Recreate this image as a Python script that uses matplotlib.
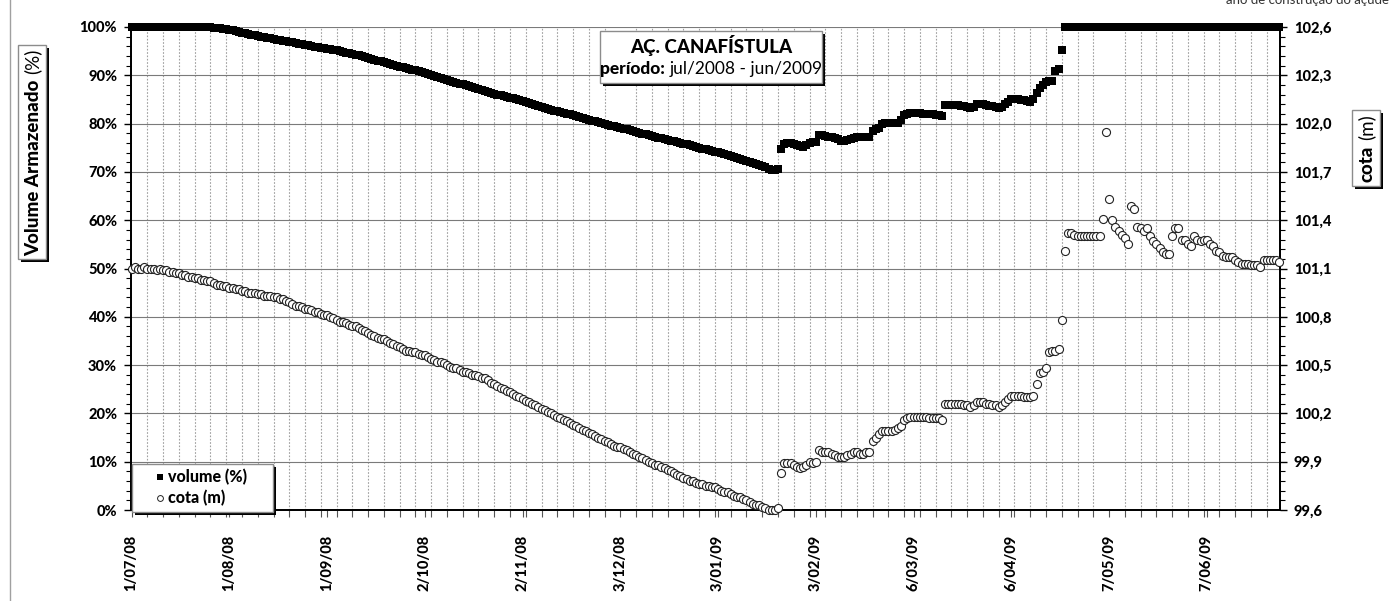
import numpy as np
import pandas as pd
import matplotlib
matplotlib.use("Agg")
import matplotlib.pyplot as plt
from matplotlib.patches import Rectangle
from matplotlib.lines import Line2D
from matplotlib.ticker import MultipleLocator

plt.rcParams["font.family"] = ["Lato", "DejaVu Sans"]

# ---- dados diários: 1/07/2008 a 30/06/2009 ----
# volume armazenado (%)
volume_estiagem = [
    100.0, 100.0, 100.0, 100.0, 100.0, 100.0, 100.0, 100.0, 100.0, 100.0,
    100.0, 100.0, 100.0, 100.0, 100.0, 100.0, 100.0, 100.0, 100.0, 100.0,
    100.0, 100.0, 100.0, 100.0, 100.0, 99.9, 99.8, 99.7, 99.7, 99.6,
    99.5, 99.4, 99.3, 99.1, 99.0, 98.8, 98.7, 98.5, 98.4, 98.3,
    98.2, 98.0, 97.9, 97.8, 97.7, 97.5, 97.4, 97.3, 97.2, 97.0,
    96.9, 96.8, 96.7, 96.5, 96.4, 96.3, 96.2, 96.0, 95.9, 95.8,
    95.7, 95.6, 95.5, 95.4, 95.3, 95.2, 95.1, 94.9, 94.7, 94.6,
    94.4, 94.2, 94.1, 93.9, 93.7, 93.5, 93.4, 93.2, 93.0, 92.9,
    92.7, 92.5, 92.3, 92.2, 92.0, 91.8, 91.7, 91.5, 91.3, 91.2,
    91.0, 90.8, 90.6, 90.5, 90.3, 90.1, 89.9, 89.7, 89.5, 89.3,
    89.1, 88.9, 88.7, 88.5, 88.3, 88.1, 87.9, 87.7, 87.5, 87.3,
    87.1, 86.9, 86.7, 86.5, 86.3, 86.2, 86.0, 85.9, 85.7, 85.5,
    85.4, 85.2, 85.0, 84.9, 84.7, 84.5, 84.3, 84.1, 83.9, 83.7,
    83.5, 83.3, 83.1, 82.9, 82.7, 82.6, 82.4, 82.2, 82.0, 81.9,
    81.7, 81.5, 81.3, 81.2, 81.0, 80.8, 80.6, 80.5, 80.3, 80.1,
    79.9, 79.8, 79.6, 79.4, 79.3, 79.1, 78.9, 78.8, 78.6, 78.4,
    78.3, 78.1, 77.9, 77.8, 77.6, 77.5, 77.3, 77.1, 77.0, 76.8,
    76.7, 76.5, 76.3, 76.2, 76.0, 75.8, 75.7, 75.5, 75.3, 75.2,
    75.0, 74.8, 74.7, 74.5, 74.3, 74.2, 74.1, 73.9, 73.7, 73.5,
    73.3, 73.1, 72.9, 72.7, 72.5, 72.3, 72.1, 71.9, 71.7, 71.5,
    71.2, 71.0, 70.7, 70.4, 70.3, 70.5,
]
volume_recarga = [
    74.7, 75.8, 76.0, 76.0, 75.8, 75.6, 75.3, 75.2, 75.5, 76.0,
    76.2, 76.2, 77.6, 77.6, 77.5, 77.3, 77.2, 77.0, 76.8, 76.5,
    76.4, 76.6, 76.8, 77.0, 77.2, 77.2, 77.2, 77.2, 77.3, 78.5,
    78.8, 79.1, 79.9, 80.1, 80.1, 80.1, 80.1, 80.2, 80.7, 81.8,
    82.0, 82.2, 82.2, 82.2, 82.1, 82.0, 82.0, 82.0, 81.9, 81.8,
    81.7, 81.6, 83.9, 83.9, 83.9, 83.9, 83.8, 83.7, 83.6, 83.4,
    83.3, 83.5, 84.0, 84.0, 84.0, 83.9, 83.7, 83.6, 83.4, 83.2,
    83.4, 84.0, 84.5, 85.1, 85.1, 85.0, 84.9, 84.8, 84.7, 84.5,
    85.0, 86.3, 87.3, 88.0, 88.6, 88.8, 88.9, 90.9, 91.3, 95.2,
]
volume_sangria = [
    100.0, 100.0, 100.0, 100.0, 100.0, 100.0, 100.0, 100.0, 100.0, 100.0,
    100.0, 100.0, 100.0, 100.0, 100.0, 100.0, 100.0, 100.0, 100.0, 100.0,
    100.0, 100.0, 100.0, 100.0, 100.0, 100.0, 100.0, 100.0, 100.0, 100.0,
    100.0, 100.0, 100.0, 100.0, 100.0, 100.0, 100.0, 100.0, 100.0, 100.0,
    100.0, 100.0, 100.0, 100.0, 100.0, 100.0, 100.0, 100.0, 100.0, 100.0,
    100.0, 100.0, 100.0, 100.0, 100.0, 100.0, 100.0, 100.0, 100.0, 100.0,
    100.0, 100.0, 100.0, 100.0, 100.0, 100.0, 100.0, 100.0, 100.0,
]

# cota (m)
cota_estiagem = [
    101.10, 101.11, 101.10, 101.10, 101.11, 101.10, 101.10, 101.10, 101.09, 101.10,
    101.09, 101.09, 101.08, 101.08, 101.07, 101.07, 101.06, 101.06, 101.05, 101.05,
    101.04, 101.04, 101.03, 101.03, 101.02, 101.02, 101.01, 101.00, 101.00, 100.99,
    100.99, 100.98, 100.98, 100.97, 100.97, 100.96, 100.96, 100.95, 100.95, 100.95,
    100.94, 100.94, 100.93, 100.93, 100.93, 100.92, 100.92, 100.91, 100.91, 100.90,
    100.89, 100.88, 100.87, 100.87, 100.86, 100.85, 100.85, 100.84, 100.83, 100.83,
    100.82, 100.81, 100.81, 100.80, 100.79, 100.78, 100.77, 100.77, 100.76, 100.75,
    100.74, 100.74, 100.73, 100.72, 100.71, 100.70, 100.69, 100.68, 100.67, 100.66,
    100.66, 100.65, 100.64, 100.63, 100.62, 100.61, 100.60, 100.59, 100.59, 100.58,
    100.58, 100.57, 100.56, 100.56, 100.55, 100.54, 100.53, 100.52, 100.52, 100.51,
    100.50, 100.49, 100.48, 100.48, 100.47, 100.46, 100.46, 100.45, 100.44, 100.44,
    100.43, 100.42, 100.42, 100.41, 100.39, 100.38, 100.37, 100.36, 100.35, 100.34,
    100.33, 100.32, 100.31, 100.30, 100.29, 100.28, 100.27, 100.26, 100.25, 100.24,
    100.23, 100.22, 100.21, 100.20, 100.19, 100.18, 100.17, 100.16, 100.15, 100.14,
    100.13, 100.12, 100.11, 100.10, 100.09, 100.08, 100.07, 100.06, 100.05, 100.04,
    100.03, 100.02, 100.01, 100.00, 99.99, 99.99, 99.98, 99.97, 99.96, 99.95,
    99.94, 99.93, 99.92, 99.91, 99.90, 99.89, 99.88, 99.88, 99.87, 99.86,
    99.85, 99.84, 99.83, 99.82, 99.81, 99.80, 99.79, 99.78, 99.78, 99.77,
    99.76, 99.76, 99.75, 99.75, 99.74, 99.74, 99.73, 99.72, 99.71, 99.71,
    99.70, 99.69, 99.68, 99.68, 99.67, 99.66, 99.65, 99.64, 99.63, 99.63,
    99.62, 99.61, 99.60, 99.60, 99.60, 99.61,
]
cota_recarga = [
    99.83, 99.89, 99.89, 99.89, 99.88, 99.87, 99.86, 99.87, 99.88, 99.90,
    99.89, 99.90, 99.97, 99.96, 99.96, 99.96, 99.95, 99.94, 99.93, 99.93,
    99.93, 99.94, 99.95, 99.96, 99.96, 99.95, 99.95, 99.96, 99.96, 100.03,
    100.05, 100.07, 100.09, 100.09, 100.09, 100.09, 100.10, 100.11, 100.12, 100.16,
    100.17, 100.18, 100.18, 100.18, 100.18, 100.18, 100.18, 100.17, 100.17, 100.17,
    100.17, 100.16, 100.26, 100.26, 100.26, 100.26, 100.26, 100.26, 100.25, 100.25,
    100.24, 100.25, 100.27, 100.27, 100.27, 100.26, 100.26, 100.25, 100.25, 100.24,
    100.25, 100.27, 100.29, 100.31, 100.31, 100.31, 100.31, 100.30, 100.30, 100.30,
    100.31, 100.38, 100.45, 100.46, 100.48, 100.58, 100.59, 100.59, 100.60, 100.78,
]
cota_sangria = [
    101.21, 101.32, 101.32, 101.31, 101.30, 101.30, 101.30, 101.30, 101.30, 101.30,
    101.30, 101.30, 101.41, 101.95, 101.53, 101.40, 101.36, 101.33, 101.31, 101.29,
    101.25, 101.49, 101.47, 101.36, 101.35, 101.33, 101.35, 101.30, 101.27, 101.25,
    101.23, 101.20, 101.19, 101.19, 101.30, 101.35, 101.35, 101.28, 101.28, 101.25,
    101.24, 101.30, 101.28, 101.27, 101.28, 101.28, 101.25, 101.24, 101.21, 101.20,
    101.18, 101.17, 101.17, 101.17, 101.15, 101.14, 101.13, 101.13, 101.13, 101.12,
    101.12, 101.12, 101.11, 101.15, 101.15, 101.15, 101.15, 101.15, 101.14,
]

rotulos_x = ["1/07/08", "1/08/08", "1/09/08", "2/10/08", "2/11/08", "3/12/08",
             "3/01/09", "3/02/09", "6/03/09", "6/04/09", "7/05/09", "7/06/09"]
ticks_volume = [0, 10, 20, 30, 40, 50, 60, 70, 80, 90, 100]
ticks_cota = [99.6, 99.9, 100.2, 100.5, 100.8, 101.1, 101.4, 101.7, 102.0, 102.3, 102.6]

volume = volume_estiagem + volume_recarga + volume_sangria
cota = cota_estiagem + cota_recarga + cota_sangria
datas = pd.date_range("2008-07-01", periods=len(volume), freq="D")
datas_rotulos = pd.to_datetime(rotulos_x, format="%d/%m/%y")

W, H, DPI = 1392, 601, 100
PESO = "black"  # o mais pesado disponível
fig = plt.figure(figsize=(W / DPI, H / DPI), dpi=DPI)
fig.subplots_adjust(left=131 / W, right=1280 / W, bottom=1 - 510 / H, top=1 - 27 / H)
ax = fig.add_subplot(111)
ax2 = ax.twinx()

ax.plot(datas, volume, "s", color="black", ms=5.8, mew=0, clip_on=False, zorder=3)
ax2.plot(datas, cota, "o", mfc="white", mec="#222222", mew=0.8, ms=5.8, clip_on=False, zorder=3)

ax.set_xlim(datas[0] - pd.Timedelta(hours=5), datas[-1] + pd.Timedelta(hours=5))
ax.set_ylim(0, 100)
ax2.set_ylim(99.6, 102.6)

ax.set_xticks(datas_rotulos, rotulos_x, rotation=90, fontweight=PESO, fontsize=10.5)
ax.set_xticks(pd.date_range("2008-07-01", "2009-06-30", freq="5D"), minor=True)
ax.set_yticks(ticks_volume, [f"{v}%" for v in ticks_volume], fontweight=PESO, fontsize=10.5)
ax.yaxis.set_minor_locator(MultipleLocator(2))
ax2.set_yticks(ticks_cota, [f"{v:.1f}".replace(".", ",") for v in ticks_cota],
               fontweight=PESO, fontsize=10.5)
ax2.yaxis.set_minor_locator(MultipleLocator(0.06))

ax.tick_params(axis="x", which="both", direction="out", length=5, width=0.8, pad=13, color="#555555")
ax.tick_params(axis="y", which="major", direction="out", length=5, width=1, pad=5)
ax.tick_params(axis="y", which="minor", direction="out", length=3.5, width=0.8)
ax2.tick_params(axis="y", which="major", direction="out", length=5, width=1, pad=5)
ax2.tick_params(axis="y", which="minor", direction="out", length=3.5, width=0.8)

ax.grid(which="major", axis="y", color="#7a7a7a", lw=0.8)
ax.grid(which="minor", axis="x", color="#a0a0a0", lw=0.8, ls=(0, (1.5, 1.5)))
ax.set_axisbelow(True)

for a in (ax, ax2):
    a.spines["top"].set_visible(False)
    for s in ("left", "right", "bottom"):
        a.spines[s].set_linewidth(1.3)
        a.spines[s].set_color("black")


def caixa(x0, y0, x1, y1):
    sombra = Rectangle(((x0 + 3) / W, 1 - (y1 + 3) / H), (x1 - x0) / W, (y1 - y0) / H,
                       transform=fig.transFigure, facecolor="black", edgecolor="none", zorder=5)
    frente = Rectangle((x0 / W, 1 - y1 / H), (x1 - x0) / W, (y1 - y0) / H,
                       transform=fig.transFigure, facecolor="white", edgecolor="#8c8c8c",
                       lw=1, zorder=6)
    fig.add_artist(sombra)
    fig.add_artist(frente)


def texto_misto(partes, xc, yc, tam, rot=0):
    r = fig.canvas.get_renderer()
    objs = [fig.text(0, 0, s, fontsize=tam, fontweight=p, rotation=rot,
                     rotation_mode="anchor", ha="left", va="baseline", zorder=8)
            for s, p in partes]
    larg = []
    for t in objs:
        bb = t.get_window_extent(r)
        larg.append(bb.height if rot else bb.width)
    folga = 0.28 * tam * DPI / 72
    total = sum(larg) + folga * (len(objs) - 1)
    meia = 0.36 * tam * DPI / 72
    pos = -total / 2
    for t, l in zip(objs, larg):
        if rot:
            t.set_position(((xc + meia) / W, (H - yc + pos) / H))
        else:
            t.set_position(((xc + pos) / W, (H - yc - meia) / H))
        pos += l + folga


# legenda (caixa com sombra, como no original)
caixa(132, 464, 273, 512)
fig.add_artist(Line2D([160 / W], [1 - 477 / H], ls="none", marker="s", color="black",
                      ms=4.2, mew=0, transform=fig.transFigure, zorder=8))
fig.add_artist(Line2D([160 / W], [1 - 498 / H], ls="none", marker="o", mfc="white",
                      mec="#222222", mew=0.7, ms=4.2, transform=fig.transFigure, zorder=8))
fig.text(168 / W, 1 - 477 / H, "volume (%)", ha="left", va="center", fontsize=11.5,
         fontweight=PESO, zorder=8)
fig.text(168 / W, 1 - 498 / H, "cota (m)", ha="left", va="center", fontsize=11.5,
         fontweight=PESO, zorder=8)

# título
caixa(600, 31, 822, 83)
fig.text(711 / W, 1 - 46 / H, "AÇ. CANAFÍSTULA", ha="center", va="center",
         fontsize=13.5, fontweight=PESO, zorder=8)
texto_misto([("período:", PESO), ("jul/2008 - jun/2009", "normal")], 711, 68, 12.5)

# rótulos dos eixos
caixa(18, 45, 46, 259)
texto_misto([("Volume Armazenado", PESO), ("(%)", "normal")], 32, 152, 13.5, rot=90)
caixa(1352, 110, 1380, 186)
texto_misto([("cota", PESO), ("(m)", "normal")], 1366, 148, 13.5, rot=90)

fig.text(1389 / W, 1 - 4 / H, "ano de construção do açude", ha="right", va="baseline",
         fontsize=9.5, color="#333333")
fig.add_artist(Line2D([10 / W, 10 / W], [0, 1], transform=fig.transFigure,
                      color="#a0a0a0", lw=1))

fig.savefig("out.png", dpi=DPI)
